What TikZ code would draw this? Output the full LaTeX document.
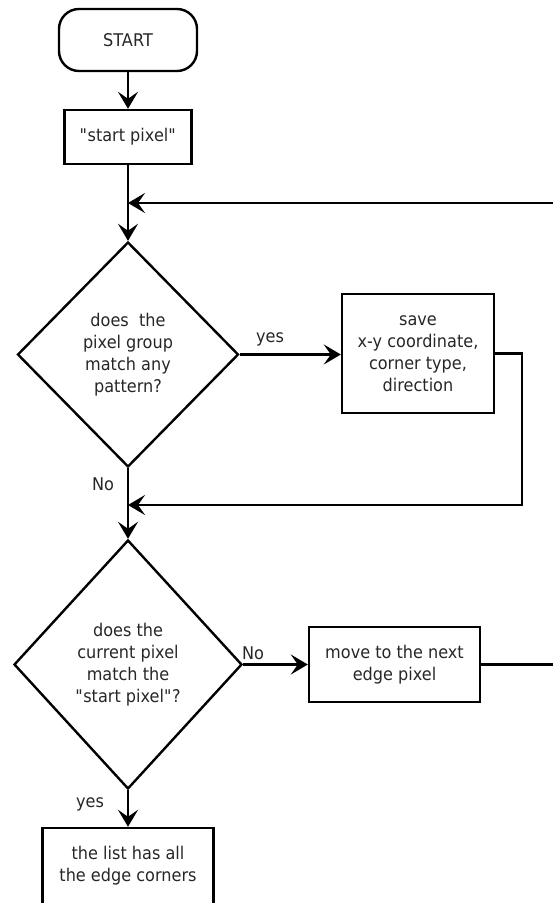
\documentclass[tikz,border=0pt]{standalone}
\usepackage{fontspec}
\setsansfont[FakeStretch=0.92]{DejaVu Sans}
\usetikzlibrary{shapes.geometric,arrows.meta}

\begin{document}
\begin{tikzpicture}[x=1pt,y=-1pt,
  line width=2.4pt,
  txt/.style={font=\sffamily\fontsize{17.5}{22}\selectfont, text=black!85},
  box/.style={txt, draw=black, line width=2.4pt, align=center, inner sep=0pt},
  terminal/.style={box, rounded corners=20pt},
  decision/.style={box, diamond, aspect=1},
  lbl/.style={txt, inner sep=0pt},
  arr/.style={-{Stealth[length=17pt,width=20pt,inset=7pt]}}
]
\useasboundingbox (0,0) rectangle (553,903);

% process steps
\node[terminal, minimum width=138pt, minimum height=62pt] (start) at (128,40) {START};
\node[box, minimum width=127pt, minimum height=54pt] (sp) at (128,137)
  {\textquotedbl start pixel\textquotedbl};
\node[decision, minimum width=221pt, minimum height=225pt] (d1) at (128,354.5)
  {does\ \ the\\pixel group\\match any\\pattern?};
\node[box, minimum width=152pt, minimum height=119pt] (save) at (418,353.5)
  {save\\x-y coordinate,\\corner type,\\direction};
\node[decision, minimum width=228pt, minimum height=249pt] (d2) at (128,664.5)
  {does the\\current pixel\\match the\\\textquotedbl start pixel\textquotedbl?};
\node[box, minimum width=171pt, minimum height=75pt] (mv) at (394.5,664.5)
  {move to the next\\edge pixel};
\node[box, minimum width=171pt, minimum height=76pt] (lst) at (128,866)
  {the list has all\\the edge corners};

% branch labels
\node[lbl] (yes1) at (270,339) {yes};
\node[lbl] (no1) at (103,484) {No};
\node[lbl] (no2) at (253,653) {No};
\node[lbl] (yes2) at (90,804) {yes};

% junction points on the main line
\coordinate (j1) at (128,203);
\coordinate (j2) at (128,505);

% connectors
\draw[arr] (start) -- (sp);
\draw[arr] (sp) -- (d1.north);
\draw[arr] (d1.east) -- (save.west |- d1.east);
\draw[arr] (save.east) -- ++(27,0) |- (j2);
\draw[arr] (d1.south) -- (d2.north);
\draw[arr] (d2.east) -- (mv.west);
\draw[arr] (mv.east) -- (565,664.5) -- (565,203) -- (j1);
\draw[arr] (d2.south) -- (lst.north);
\end{tikzpicture}
\end{document}
